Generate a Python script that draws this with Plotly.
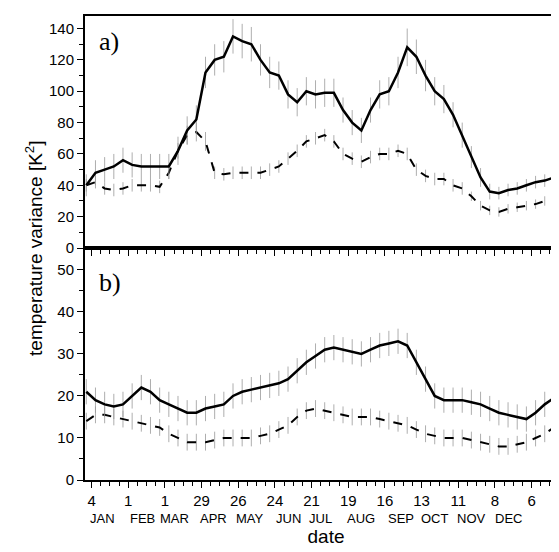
import plotly.graph_objects as go
from plotly.subplots import make_subplots

days = list(range(0, 365, 7)) + [364]
a_solid = [40,48,50,52,56,53,52,52,52,52,62,75,82,112,120,122,135,132,130,120,112,110,98,93,100,98,99,99,88,80,75,88,98,100,112,128,122,110,100,95,85,72,58,45,36,35,37,38,40,42,43,45,45,46]
a_dash = [40,42,38,37,38,40,40,40,39,48,62,72,74,68,48,47,48,48,48,48,50,52,57,62,68,70,72,68,60,57,55,58,60,60,62,60,50,46,44,44,40,38,33,27,24,23,25,26,27,28,30,31,32,33]
a_solid_err = [7,8,8,8,8,8,8,8,8,8,9,9,9,10,10,10,11,11,11,10,10,9,9,9,9,9,9,9,8,8,8,8,9,9,10,12,11,10,9,9,8,8,7,6,5,4,4,4,4,4,4,4,4,4]
a_dash_err = [4,4,4,4,4,4,4,4,4,4,5,6,6,6,4,4,4,4,4,4,4,4,4,4,4,4,4,4,4,4,4,4,4,4,4,4,4,4,4,4,4,4,3,3,3,3,3,3,3,3,3,3,3,3]
b_solid = [21,19,18,17.5,18,20,22,21,19,18,17,16,16,17,17.5,18,20,21,21.5,22,22.5,23,24,26,28,29.5,31,31.5,31,30.5,30,31,32,32.5,33,32,28,24,20,19,19,19,18.5,18,17,16,15.5,15,14.5,16,18,19.5,21,21]
b_dash = [14,15.5,15.5,15,14.5,14,13.5,13,12.5,11,10,9,9,9,9.5,10,10,10,10,10.5,11,12,13,15,16.5,17,16.5,16,15.5,15,15,15,14.5,14,13.5,13,12,11,10.5,10,10,10,9.5,9,8.5,8,8,8.5,9,10,11,12.5,13.5,14]
b_solid_err = [3]*54
b_dash_err = [2]*54
n = len(days)

tick_days = [4,32,60,88,116,144,172,200,228,256,284,312,340]
day_labels = ["4","1","1","29","26","24","21","19","16","13","11","8","6"]
month_labels = ["JAN","FEB","MAR","APR","MAY","JUN","JUL","AUG","SEP","OCT","NOV","DEC"]
month_pos = [12,43,67,97,125,154,179,210,240,266,294,322]

fig = make_subplots(rows=2, cols=1, shared_xaxes=True, vertical_spacing=0)

def add(row, y, err, dash, w):
    fig.add_trace(go.Scatter(x=days, y=y[:n], mode="lines",
        line=dict(color="black", width=w, dash=dash),
        error_y=dict(type="data", array=err[:n], color="#999", thickness=0.8, width=0),
        showlegend=False), row=row, col=1)

add(1, a_dash, a_dash_err, "dash", 2)
add(1, a_solid, a_solid_err, "solid", 2.5)
add(2, b_dash, b_dash_err, "dash", 2)
add(2, b_solid, b_solid_err, "solid", 2.5)

axcommon = dict(showline=True, linecolor="black", linewidth=2, mirror=True, showgrid=False,
                zeroline=False, ticks="outside", tickcolor="black",
                tickfont=dict(family="Liberation Sans", size=15, color="black"))
fig.update_xaxes(range=[-1, 367], tickvals=tick_days, ticktext=day_labels, ticklen=6,
                 minor=dict(dtick=7, tick0=4, ticklen=4, ticks="outside", tickcolor="black"), **axcommon)
fig.update_xaxes(showticklabels=False, row=1, col=1)
fig.update_yaxes(range=[0, 148], dtick=20, ticklen=6,
                 minor=dict(dtick=10, ticklen=4, ticks="outside", tickcolor="black"), row=1, col=1, **axcommon)
fig.update_yaxes(range=[0, 55.2], dtick=10, ticklen=6,
                 minor=dict(dtick=5, ticklen=4, ticks="outside", tickcolor="black"), row=2, col=1, **axcommon)
fig.update_layout(xaxis2_title=dict(text="date", font=dict(family="Liberation Sans", size=19, color="black"), standoff=22))

for m, p in zip(month_labels, month_pos):
    fig.add_annotation(text=m, xref="x2", yref="y2 domain", x=p, y=0, yshift=-38, showarrow=False,
                       yanchor="middle", font=dict(family="Liberation Sans", size=13, color="black"))

fig.add_annotation(text="a)", xref="x", yref="y", x=8, y=142, showarrow=False, xanchor="left", yanchor="top",
                   font=dict(family="Liberation Serif", size=26, color="black"))
fig.add_annotation(text="b)", xref="x2", yref="y2", x=8, y=51, showarrow=False, xanchor="left", yanchor="top",
                   font=dict(family="Liberation Serif", size=26, color="black"))
fig.add_annotation(text="temperature variance [K<sup>2</sup>]", xref="paper", yref="paper", x=-0.135, y=0.5,
                   textangle=-90, showarrow=False, font=dict(family="Liberation Sans", size=19, color="black"))

fig.update_layout(width=559, height=552, margin=dict(l=77, r=0, t=8, b=80, autoexpand=False),
                  plot_bgcolor="white", paper_bgcolor="white")
fig.write_html("out.html")
